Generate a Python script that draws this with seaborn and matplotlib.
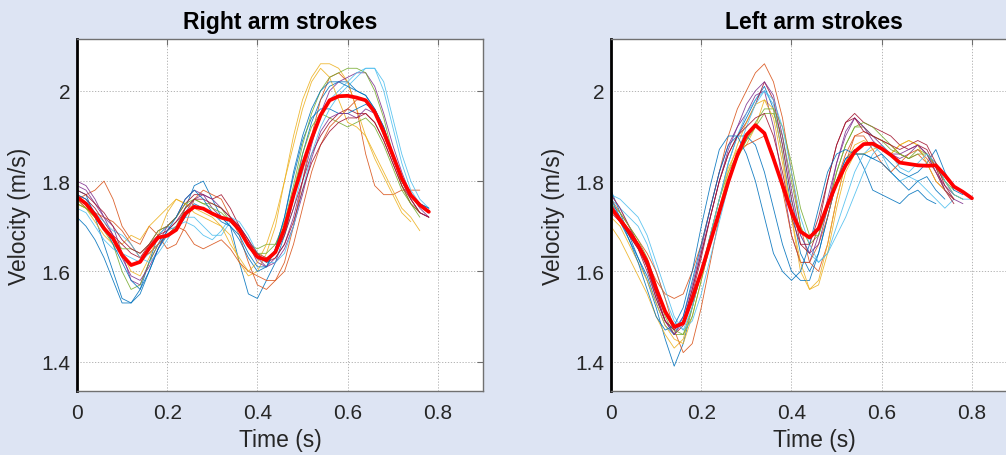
import pandas as pd
import seaborn as sns
import matplotlib
import matplotlib.pyplot as plt

matplotlib.use("Agg")

# Couleurs
BG = "#dde4f3"
MATLAB_COLORS = ["#0072BD", "#D95319", "#EDB120", "#7E2F8E",
                 "#77AC30", "#4DBEEE", "#A2142F"]

# Axe du temps (s), échantillonné toutes les 0.02 s
time = [0.00, 0.02, 0.04, 0.06, 0.08, 0.10, 0.12, 0.14, 0.16, 0.18,
        0.20, 0.22, 0.24, 0.26, 0.28, 0.30, 0.32, 0.34, 0.36, 0.38,
        0.40, 0.42, 0.44, 0.46, 0.48, 0.50, 0.52, 0.54, 0.56, 0.58,
        0.60, 0.62, 0.64, 0.66, 0.68, 0.70, 0.72, 0.74, 0.76, 0.78, 0.80]

x_ticks = [0, 0.2, 0.4, 0.6, 0.8]
x_tick_labels = ["0", "0.2", "0.4", "0.6", "0.8"]
y_ticks = [1.4, 1.6, 1.8, 2.0]
y_tick_labels = ["1.4", "1.6", "1.8", "2"]

# Bras droit : vitesse de chaque coup (m/s)
right_trials = [
    [1.78, 1.77, 1.72, 1.66, 1.60, 1.54, 1.53, 1.56, 1.62, 1.68, 1.70, 1.69, 1.74, 1.79, 1.80, 1.76, 1.72, 1.70, 1.62, 1.55,
     1.54, 1.58, 1.62, 1.68, 1.76, 1.86, 1.93, 1.98, 2.01, 2.02, 2.02, 2.00, 1.99, 1.96, 1.92, 1.86, 1.80, 1.77, 1.75, 1.73],
    [1.76, 1.77, 1.78, 1.80, 1.76, 1.70, 1.67, 1.66, 1.70, 1.68, 1.65, 1.66, 1.70, 1.76, 1.78, 1.77, 1.76, 1.72, 1.68, 1.62,
     1.57, 1.56, 1.58, 1.62, 1.70, 1.80, 1.90, 1.98, 2.03, 2.04, 2.02, 1.96, 1.86, 1.79, 1.77, 1.77, 1.78, 1.78, 1.78],
    [1.75, 1.74, 1.72, 1.70, 1.67, 1.66, 1.68, 1.67, 1.70, 1.72, 1.74, 1.76, 1.75, 1.73, 1.72, 1.71, 1.70, 1.68, 1.62, 1.59,
     1.60, 1.64, 1.70, 1.80, 1.90, 1.98, 2.03, 2.06, 2.06, 2.05, 2.02, 1.96, 1.90, 1.86, 1.82, 1.78, 1.74, 1.72, 1.69],
    [1.80, 1.79, 1.76, 1.72, 1.70, 1.64, 1.58, 1.57, 1.62, 1.66, 1.70, 1.72, 1.76, 1.78, 1.77, 1.74, 1.72, 1.71, 1.70, 1.66,
     1.62, 1.61, 1.63, 1.66, 1.72, 1.80, 1.88, 1.95, 2.00, 2.02, 2.03, 2.04, 2.04, 2.01, 1.95, 1.88, 1.82, 1.77, 1.74, 1.72],
    [1.76, 1.74, 1.72, 1.69, 1.66, 1.60, 1.56, 1.57, 1.62, 1.66, 1.68, 1.70, 1.74, 1.76, 1.75, 1.74, 1.73, 1.71, 1.69, 1.66,
     1.65, 1.66, 1.66, 1.70, 1.78, 1.86, 1.92, 1.95, 1.94, 1.93, 1.92, 1.93, 1.94, 1.92, 1.88, 1.83, 1.78, 1.75, 1.72],
    [1.74, 1.73, 1.70, 1.67, 1.65, 1.64, 1.63, 1.62, 1.64, 1.66, 1.69, 1.70, 1.72, 1.72, 1.70, 1.68, 1.68, 1.71, 1.70, 1.67,
     1.63, 1.62, 1.64, 1.68, 1.74, 1.82, 1.90, 1.95, 1.98, 2.00, 2.02, 2.04, 2.05, 2.05, 2.00, 1.92, 1.84, 1.78, 1.75, 1.73],
    [1.77, 1.76, 1.74, 1.71, 1.68, 1.66, 1.64, 1.63, 1.66, 1.69, 1.70, 1.72, 1.75, 1.77, 1.77, 1.76, 1.77, 1.74, 1.70, 1.66,
     1.64, 1.63, 1.64, 1.68, 1.74, 1.80, 1.86, 1.90, 1.93, 1.95, 1.96, 1.95, 1.95, 1.93, 1.89, 1.84, 1.79, 1.75, 1.73, 1.72],
    [1.72, 1.70, 1.67, 1.63, 1.58, 1.53, 1.53, 1.55, 1.60, 1.65, 1.68, 1.69, 1.72, 1.75, 1.74, 1.73, 1.72, 1.70, 1.67, 1.63,
     1.60, 1.61, 1.65, 1.72, 1.81, 1.89, 1.94, 1.96, 1.96, 1.95, 1.95, 1.96, 1.97, 1.96, 1.92, 1.86, 1.81, 1.77, 1.75, 1.74],
    [1.76, 1.74, 1.73, 1.72, 1.71, 1.69, 1.66, 1.63, 1.64, 1.66, 1.68, 1.70, 1.69, 1.66, 1.65, 1.66, 1.67, 1.65, 1.62, 1.60,
     1.59, 1.58, 1.58, 1.60, 1.66, 1.74, 1.82, 1.88, 1.92, 1.94, 1.96, 1.98, 1.98, 1.95, 1.90, 1.85, 1.80, 1.76, 1.73],
    [1.75, 1.74, 1.71, 1.68, 1.66, 1.64, 1.60, 1.59, 1.63, 1.68, 1.73, 1.76, 1.75, 1.74, 1.73, 1.72, 1.70, 1.66, 1.63, 1.60,
     1.62, 1.66, 1.72, 1.80, 1.88, 1.96, 2.02, 2.05, 2.03, 1.98, 1.93, 1.92, 1.90, 1.85, 1.81, 1.77, 1.73, 1.71],
    [1.79, 1.78, 1.75, 1.72, 1.68, 1.63, 1.59, 1.58, 1.61, 1.65, 1.69, 1.71, 1.73, 1.76, 1.77, 1.76, 1.74, 1.72, 1.70, 1.67,
     1.63, 1.61, 1.62, 1.65, 1.70, 1.77, 1.85, 1.91, 1.94, 1.95, 1.95, 1.94, 1.96, 1.95, 1.91, 1.86, 1.80, 1.76, 1.73, 1.72],
    [1.75, 1.74, 1.72, 1.70, 1.67, 1.65, 1.65, 1.64, 1.66, 1.69, 1.70, 1.72, 1.75, 1.76, 1.75, 1.75, 1.74, 1.71, 1.69, 1.66,
     1.64, 1.64, 1.66, 1.71, 1.79, 1.88, 1.95, 2.00, 2.03, 2.04, 2.05, 2.05, 2.04, 2.00, 1.94, 1.86, 1.79, 1.75, 1.73],
    [1.76, 1.75, 1.73, 1.71, 1.69, 1.68, 1.66, 1.63, 1.62, 1.64, 1.67, 1.70, 1.71, 1.70, 1.68, 1.67, 1.69, 1.72, 1.71, 1.68,
     1.64, 1.62, 1.62, 1.64, 1.70, 1.78, 1.86, 1.92, 1.96, 1.99, 2.01, 2.03, 2.05, 2.05, 2.02, 1.94, 1.86, 1.80, 1.76, 1.74],
    [1.78, 1.77, 1.75, 1.73, 1.70, 1.67, 1.65, 1.64, 1.66, 1.68, 1.69, 1.71, 1.74, 1.76, 1.76, 1.75, 1.74, 1.72, 1.70, 1.67,
     1.64, 1.62, 1.63, 1.66, 1.71, 1.78, 1.84, 1.88, 1.91, 1.93, 1.94, 1.94, 1.95, 1.93, 1.89, 1.84, 1.79, 1.76, 1.73, 1.72],
    [1.77, 1.76, 1.73, 1.70, 1.66, 1.62, 1.58, 1.56, 1.60, 1.65, 1.69, 1.72, 1.76, 1.78, 1.76, 1.73, 1.71, 1.70, 1.68, 1.64,
     1.61, 1.61, 1.65, 1.72, 1.82, 1.90, 1.96, 2.00, 2.02, 2.02, 2.01, 2.00, 1.99, 1.96, 1.91, 1.85, 1.80, 1.77, 1.75, 1.74],
]
right_mean = [1.765, 1.750, 1.725, 1.695, 1.673, 1.636, 1.614, 1.621, 1.651, 1.675,
              1.679, 1.692, 1.728, 1.743, 1.739, 1.728, 1.719, 1.714, 1.692, 1.658,
              1.632, 1.625, 1.643, 1.695, 1.769, 1.835, 1.894, 1.946, 1.979, 1.988,
              1.989, 1.985, 1.979, 1.953, 1.909, 1.858, 1.806, 1.769, 1.747, 1.732]

# Bras gauche
left_trials = [
    [1.78, 1.73, 1.68, 1.63, 1.58, 1.52, 1.45, 1.39, 1.44, 1.52, 1.60, 1.68, 1.76, 1.84, 1.90, 1.94, 1.98, 2.01, 1.96, 1.86,
     1.74, 1.64, 1.60, 1.64, 1.72, 1.80, 1.85, 1.87, 1.83, 1.78, 1.77, 1.76, 1.75, 1.77, 1.78, 1.76, 1.75],
    [1.77, 1.74, 1.70, 1.66, 1.62, 1.58, 1.55, 1.54, 1.55, 1.60, 1.66, 1.74, 1.82, 1.90, 1.96, 2.00, 2.04, 2.06, 2.02, 1.94,
     1.82, 1.70, 1.62, 1.60, 1.66, 1.76, 1.84, 1.90, 1.91, 1.90, 1.89, 1.88, 1.86, 1.85, 1.86, 1.84, 1.80, 1.78, 1.76],
    [1.70, 1.67, 1.63, 1.59, 1.55, 1.50, 1.46, 1.43, 1.45, 1.52, 1.60, 1.68, 1.76, 1.83, 1.87, 1.88, 1.92, 1.98, 1.96, 1.86,
     1.72, 1.60, 1.56, 1.58, 1.66, 1.76, 1.84, 1.88, 1.89, 1.88, 1.87, 1.86, 1.88, 1.89, 1.88, 1.86, 1.83, 1.80, 1.77, 1.76],
    [1.75, 1.72, 1.69, 1.66, 1.61, 1.54, 1.49, 1.47, 1.50, 1.57, 1.65, 1.74, 1.82, 1.88, 1.92, 1.95, 1.99, 2.00, 1.92, 1.80,
     1.68, 1.62, 1.62, 1.68, 1.76, 1.84, 1.90, 1.94, 1.92, 1.89, 1.87, 1.86, 1.85, 1.86, 1.88, 1.86, 1.82, 1.79, 1.77],
    [1.74, 1.72, 1.69, 1.66, 1.62, 1.56, 1.50, 1.46, 1.46, 1.52, 1.60, 1.68, 1.76, 1.82, 1.86, 1.89, 1.92, 1.95, 1.95, 1.90,
     1.80, 1.70, 1.66, 1.68, 1.74, 1.82, 1.88, 1.92, 1.92, 1.90, 1.89, 1.87, 1.86, 1.85, 1.87, 1.86, 1.83, 1.80, 1.78],
    [1.76, 1.74, 1.72, 1.70, 1.66, 1.60, 1.54, 1.49, 1.47, 1.52, 1.60, 1.68, 1.76, 1.84, 1.90, 1.95, 1.98, 2.00, 1.97, 1.88,
     1.76, 1.68, 1.64, 1.62, 1.64, 1.70, 1.76, 1.82, 1.86, 1.88, 1.86, 1.82, 1.80, 1.81, 1.80, 1.78, 1.76, 1.74, 1.76],
    [1.73, 1.71, 1.68, 1.65, 1.60, 1.54, 1.49, 1.46, 1.48, 1.55, 1.63, 1.72, 1.80, 1.86, 1.90, 1.93, 1.97, 2.02, 1.98, 1.88,
     1.76, 1.66, 1.64, 1.70, 1.80, 1.88, 1.93, 1.95, 1.93, 1.92, 1.91, 1.90, 1.88, 1.87, 1.88, 1.87, 1.83, 1.78, 1.75],
    [1.74, 1.71, 1.67, 1.63, 1.59, 1.53, 1.48, 1.46, 1.50, 1.58, 1.66, 1.74, 1.82, 1.88, 1.90, 1.90, 1.88, 1.82, 1.74, 1.66,
     1.60, 1.58, 1.58, 1.64, 1.72, 1.80, 1.85, 1.86, 1.86, 1.85, 1.86, 1.84, 1.82, 1.81, 1.82, 1.84, 1.87, 1.82, 1.78, 1.77],
    [1.76, 1.73, 1.70, 1.67, 1.64, 1.60, 1.54, 1.47, 1.42, 1.44, 1.52, 1.62, 1.72, 1.80, 1.86, 1.88, 1.89, 1.90, 1.86, 1.78,
     1.68, 1.62, 1.62, 1.66, 1.72, 1.80, 1.86, 1.90, 1.90, 1.87, 1.84, 1.82, 1.84, 1.86, 1.87, 1.85, 1.82, 1.78, 1.76],
    [1.72, 1.70, 1.66, 1.62, 1.58, 1.53, 1.48, 1.45, 1.44, 1.50, 1.58, 1.66, 1.74, 1.82, 1.88, 1.93, 1.97, 1.98, 1.94, 1.84,
     1.72, 1.62, 1.56, 1.57, 1.64, 1.74, 1.82, 1.86, 1.86, 1.87, 1.88, 1.86, 1.88, 1.89, 1.88, 1.84, 1.80, 1.78, 1.76],
    [1.77, 1.74, 1.70, 1.66, 1.61, 1.55, 1.49, 1.46, 1.49, 1.56, 1.64, 1.72, 1.80, 1.87, 1.92, 1.97, 2.00, 2.02, 1.99, 1.90,
     1.78, 1.68, 1.64, 1.66, 1.74, 1.84, 1.91, 1.94, 1.92, 1.90, 1.88, 1.86, 1.86, 1.87, 1.88, 1.86, 1.82, 1.78, 1.76, 1.75],
    [1.75, 1.73, 1.70, 1.67, 1.63, 1.57, 1.51, 1.47, 1.46, 1.50, 1.58, 1.66, 1.74, 1.80, 1.85, 1.89, 1.93, 1.96, 1.96, 1.92,
     1.84, 1.74, 1.68, 1.68, 1.74, 1.82, 1.88, 1.92, 1.93, 1.92, 1.90, 1.88, 1.86, 1.85, 1.86, 1.86, 1.84, 1.80, 1.77, 1.76],
    [1.77, 1.76, 1.74, 1.72, 1.68, 1.62, 1.56, 1.50, 1.47, 1.49, 1.55, 1.63, 1.71, 1.79, 1.86, 1.92, 1.97, 2.00, 1.98, 1.92,
     1.82, 1.72, 1.66, 1.62, 1.64, 1.68, 1.72, 1.77, 1.82, 1.86, 1.88, 1.86, 1.83, 1.82, 1.84, 1.86, 1.84, 1.80, 1.77, 1.76, 1.76],
    [1.74, 1.71, 1.68, 1.65, 1.61, 1.55, 1.49, 1.47, 1.49, 1.56, 1.64, 1.72, 1.80, 1.86, 1.90, 1.92, 1.94, 1.95, 1.90, 1.82,
     1.72, 1.66, 1.66, 1.72, 1.80, 1.88, 1.93, 1.94, 1.91, 1.90, 1.89, 1.88, 1.87, 1.88, 1.89, 1.88, 1.84, 1.79, 1.76],
    [1.76, 1.72, 1.67, 1.62, 1.56, 1.50, 1.47, 1.48, 1.52, 1.60, 1.70, 1.79, 1.87, 1.90, 1.90, 1.86, 1.80, 1.72, 1.64, 1.60,
     1.58, 1.60, 1.66, 1.74, 1.82, 1.86, 1.87, 1.86, 1.86, 1.85, 1.84, 1.82, 1.80, 1.78, 1.80, 1.81, 1.78, 1.76],
]
left_mean = [1.741, 1.714, 1.688, 1.658, 1.621, 1.562, 1.511, 1.477, 1.485, 1.540,
             1.599, 1.665, 1.732, 1.799, 1.858, 1.902, 1.924, 1.906, 1.850, 1.791,
             1.732, 1.688, 1.675, 1.695, 1.747, 1.795, 1.835, 1.865, 1.882, 1.883,
             1.872, 1.858, 1.841, 1.838, 1.835, 1.834, 1.835, 1.813, 1.788, 1.776, 1.762]


def long_table(trials):
    rows = []
    for k, trial in enumerate(trials):
        for t, v in zip(time, trial):
            rows.append({"trial": k, "t": t, "v": v})
    return pd.DataFrame(rows)


def draw_panel(ax, trials, mean, title):
    df = long_table(trials)
    palette = {k: MATLAB_COLORS[k % len(MATLAB_COLORS)] for k in range(len(trials))}
    sns.lineplot(data=df, x="t", y="v", hue="trial", palette=palette,
                 estimator=None, linewidth=0.6, alpha=0.9, legend=False, ax=ax)
    sns.lineplot(x=time[:len(mean)], y=mean, color="#ff0000",
                 linewidth=2.7, ax=ax)

    ax.set_xlim(0, 0.9)
    ax.set_ylim(1.335, 2.115)
    ax.set_xticks(x_ticks)
    ax.set_xticklabels(x_tick_labels)
    ax.set_yticks(y_ticks)
    ax.set_yticklabels(y_tick_labels)
    ax.set_facecolor("white")
    ax.grid(True, linestyle=(0, (1.5, 2.0)), color="#a8a8a8", linewidth=0.6)

    ax.tick_params(direction="in", top=True, right=True, length=4,
                   width=0.8, color="#6e6e6e", labelsize=15,
                   labelcolor="#262626")
    ax.tick_params(axis="x", pad=9)
    ax.tick_params(axis="y", pad=5)
    for side in ["top", "right", "bottom"]:
        ax.spines[side].set_color("#707070")
        ax.spines[side].set_linewidth(1.0)
    ax.spines["left"].set_color("black")
    ax.spines["left"].set_linewidth(2.0)

    ax.set_title(title, fontsize=16.5, fontweight="bold", color="black", pad=8)
    ax.set_xlabel("Time (s)", fontsize=16.5, color="#262626", labelpad=4)
    ax.set_ylabel("Velocity (m/s)", fontsize=16.5, color="#262626", labelpad=7)


sns.set_style("white")
plt.rcParams["font.family"] = ["Liberation Sans", "DejaVu Sans"]

fig = plt.figure(figsize=(10.06, 4.56), dpi=100, facecolor=BG)
ax_r = fig.add_axes([0.0765, 0.1404, 0.4036, 0.772])
ax_l = fig.add_axes([0.6074, 0.1404, 0.4036, 0.772])

draw_panel(ax_r, right_trials, right_mean, "Right arm strokes")
draw_panel(ax_l, left_trials, left_mean, "Left arm strokes")

fig.savefig("out.png", dpi=100, facecolor=BG)
